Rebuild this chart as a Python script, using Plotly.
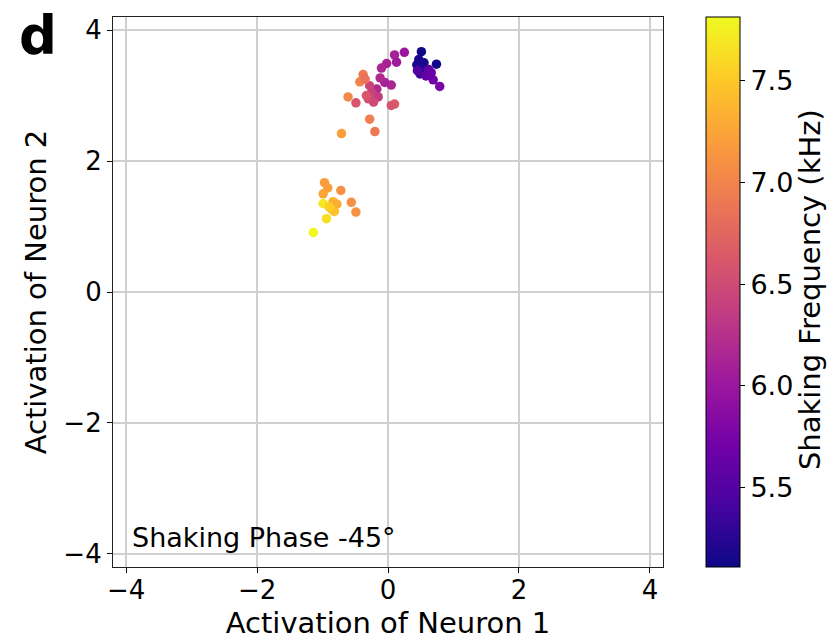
import plotly.graph_objects as go

# Activations of the two neurons and the shaking frequency (kHz) of each sample
neuron1 = [0.51, 0.47, 0.44, 0.52, 0.58, 0.74, 0.49, 0.55,
           0.62, 0.69, 0.79, 0.58, 0.45, 0.66,
           0.25, 0.10, 0.13, -0.02, -0.10, 0.05, -0.05, -0.12, -0.17,
           -0.25, -0.20, -0.30, -0.15, -0.28, -0.33, -0.22, -0.49, 0.10, 0.05,
           -0.38, -0.43, -0.61, -0.28, -0.20, -0.71, -0.35,
           -0.97, -0.92, -0.72, -0.99, -0.56, -0.49, -0.84, -0.78,
           -0.99, -0.86, -0.94, -1.14, -0.82, -0.90]
neuron2 = [3.67, 3.55, 3.47, 3.42, 3.38, 3.48, 3.33, 3.50,
           3.40, 3.24, 3.14, 3.30, 3.38, 3.35,
           3.66, 3.62, 3.51, 3.49, 3.42, 3.16, 3.20, 3.27, 3.10,
           3.05, 2.97, 2.95, 2.98, 3.15, 3.00, 2.90, 2.89, 2.87, 2.85,
           3.32, 3.21, 2.98, 2.64, 2.45, 2.42, 3.25,
           1.67, 1.59, 1.55, 1.50, 1.37, 1.22, 1.38, 1.34,
           1.35, 1.26, 1.12, 0.91, 1.23, 1.30]
freq_khz = [5.12, 5.15, 5.20, 5.25, 5.30, 5.15, 5.35, 5.18,
            5.55, 5.70, 5.75, 5.60, 5.50, 5.65,
            6.00, 6.10, 6.05, 6.10, 6.15, 6.15, 6.10, 6.20, 6.20,
            6.40, 6.50, 6.55, 6.35, 6.45, 6.60, 6.50, 6.60, 6.65, 6.60,
            6.90, 7.00, 7.05, 6.95, 6.90, 7.20, 6.85,
            7.20, 7.20, 7.10, 7.25, 7.10, 7.10, 7.35, 7.30,
            7.70, 7.50, 7.65, 7.80, 7.45, 7.55]

axis_ticks = [-4, -2, 0, 2, 4]
cbar_ticks = [5.5, 6.0, 6.5, 7.0, 7.5]

FONT = "DejaVu Sans"
TICK_SIZE = 26
TITLE_SIZE = 29

fig = go.Figure()
fig.add_trace(go.Scatter(
    x=neuron1, y=neuron2, mode="markers",
    marker=dict(
        size=9.5, color=freq_khz, colorscale="Plasma", cmin=5.107, cmax=7.815,
        line=dict(width=0),
        colorbar=dict(
            x=1.078, xanchor="left", xpad=0, y=0.5, yanchor="middle", ypad=0,
            len=1.0, lenmode="fraction", thickness=34,
            outlinecolor="black", outlinewidth=1,
            tickvals=cbar_ticks, ticktext=[f"{v:.1f}" for v in cbar_ticks],
            ticks="outside", ticklen=5, tickcolor="black",
            tickfont=dict(family=FONT, size=TICK_SIZE + 1, color="black"),
        ),
    ),
    showlegend=False,
))

axis_common = dict(
    range=[-4.2, 4.2], tickvals=axis_ticks, automargin=False,
    showgrid=True, gridcolor="#cfcfcf", gridwidth=1.6,
    zeroline=False, showline=True, linecolor="#222222", linewidth=1.2,
    mirror=True, ticks="outside", ticklen=5, tickcolor="black",
    tickfont=dict(family=FONT, size=TICK_SIZE, color="black"),
)

fig.update_layout(
    width=833, height=640,
    margin=dict(l=113, r=170, t=17, b=73, autoexpand=False),
    paper_bgcolor="white", plot_bgcolor="white",
    xaxis=dict(axis_common, ticklabelstandoff=-5,
               title=dict(text="Activation of Neuron 1", standoff=8,
                          font=dict(family=FONT, size=TITLE_SIZE, color="black"))),
    yaxis=dict(axis_common,
               title=dict(text="Activation of Neuron 2", standoff=8,
                          font=dict(family=FONT, size=TITLE_SIZE, color="black"))),
    annotations=[
        dict(text="Shaking Frequency (kHz)", xref="paper", yref="paper",
             x=1.267, y=0.505, xanchor="center", yanchor="middle",
             textangle=-90, showarrow=False,
             font=dict(family=FONT, size=TITLE_SIZE, color="black")),
        dict(text="Shaking Phase -45°", xref="paper", yref="paper",
             x=0.03, y=0.053, xanchor="left", yanchor="middle", showarrow=False,
             font=dict(family=FONT, size=TICK_SIZE + 1, color="black")),
        dict(text="<b>d</b>", xref="paper", yref="paper",
             x=-0.175, y=1.025, xanchor="left", yanchor="top", showarrow=False,
             font=dict(family=FONT, size=53, color="black")),
    ],
)

fig.write_html("out.html")
